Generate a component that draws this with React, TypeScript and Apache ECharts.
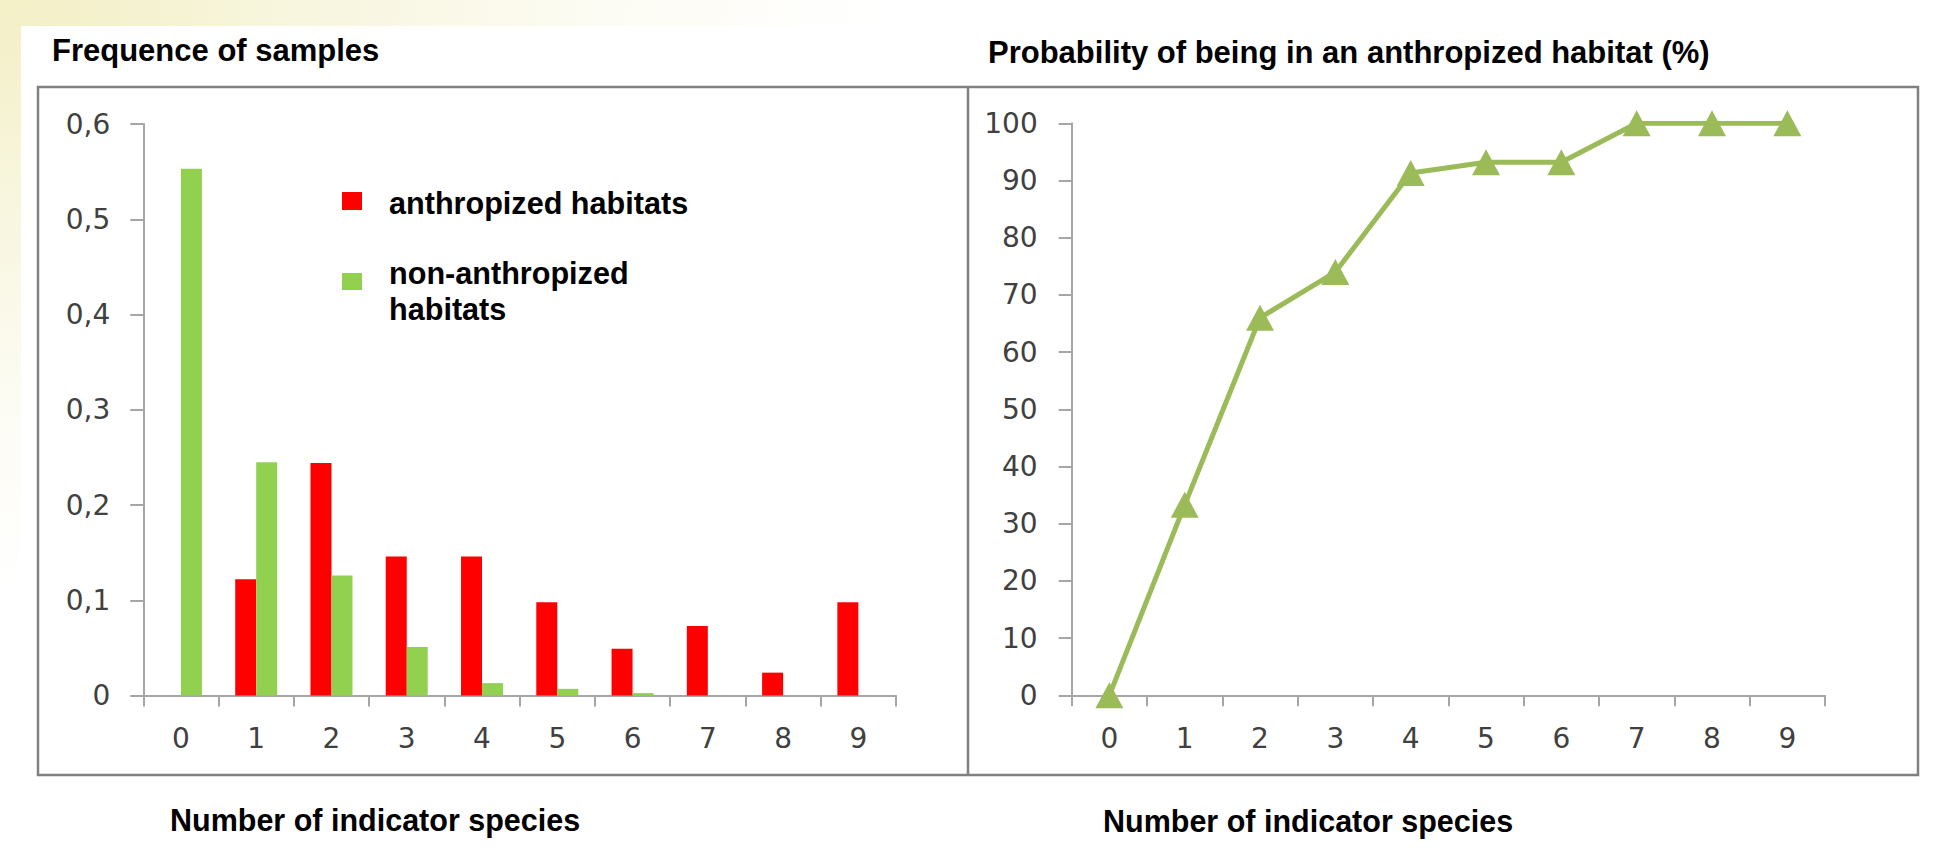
import React, { useEffect, useRef } from "react";
import * as echarts from "echarts";

// ---- data ----
const categories = ["0", "1", "2", "3", "4", "5", "6", "7", "8", "9"];
const anthropized = [0, 0.122, 0.244, 0.146, 0.146, 0.098, 0.049, 0.073, 0.024, 0.098];
const nonAnthropized = [0.553, 0.245, 0.126, 0.051, 0.013, 0.007, 0.0025, 0, 0, 0];
const probability = [0, 33.3, 66, 74, 91.3, 93.2, 93.2, 100, 100, 100];
const seriesNames = ["anthropized habitats", "non-anthropized habitats", "probability"];
const legendLabels = ["anthropized habitats", "non-anthropized\nhabitats"];
const chartTitles = ["Frequence of samples", "Probability of being in an anthropized habitat (%)"];
const xAxisTitle = "Number of indicator species";

const RED = "#FF0000";
const GREEN = "#92D050";
const OLIVE = "#9BBB59";
const AXIS = "#A6A6A6";
const LABEL = "#404040";

const boldFont = "Liberation Sans";
const tickFont = "DejaVu Sans";

export default function App() {
  const ref = useRef<HTMLDivElement>(null);

  useEffect(() => {
    if (!ref.current) return;
    const chart = echarts.init(ref.current, undefined, { renderer: "svg" });

    const axisLineStyle = { color: AXIS, width: 2 };
    const tickLabel = { fontFamily: tickFont, fontSize: 28, color: LABEL };

    const titleStyle = { fontFamily: boldFont, fontSize: 31, fontWeight: "bold" as const, color: "#000" };
    const axisTitleStyle = { fontFamily: boldFont, fontSize: 30.5, fontWeight: "bold" as const, color: "#000" };

    const option: any = {
      animation: false,
      backgroundColor: "transparent",
      title: [
        { text: chartTitles[0], left: 52, top: 34.8, padding: 0, textStyle: titleStyle },
        { text: chartTitles[1], left: 988, top: 37.1, padding: 0, textStyle: titleStyle },
        { text: xAxisTitle, left: 170, top: 804.2, padding: 0, textStyle: axisTitleStyle },
        { text: xAxisTitle, left: 1103, top: 805.9, padding: 0, textStyle: axisTitleStyle },
      ],
      grid: [
        { left: 143.3, top: 124, width: 752.7, height: 571.5, containLabel: false, outerBoundsMode: "none" },
        { left: 1071.7, top: 123.3, width: 753.3, height: 572, containLabel: false, outerBoundsMode: "none" },
      ],
      xAxis: [
        {
          type: "category",
          gridIndex: 0,
          data: categories,
          boundaryGap: true,
          axisLine: { show: true, lineStyle: axisLineStyle },
          axisTick: { show: true, length: 11, lineStyle: axisLineStyle, alignWithLabel: false },
          axisLabel: { ...tickLabel, margin: 29, interval: 0 },
          splitLine: { show: false },
        },
        {
          type: "category",
          gridIndex: 1,
          data: categories,
          boundaryGap: true,
          axisLine: { show: true, lineStyle: axisLineStyle },
          axisTick: { show: true, length: 11, lineStyle: axisLineStyle, alignWithLabel: false },
          axisLabel: { ...tickLabel, margin: 29, interval: 0 },
          splitLine: { show: false },
        },
      ],
      yAxis: [
        {
          type: "value",
          gridIndex: 0,
          min: 0,
          max: 0.6,
          interval: 0.1,
          axisLine: { show: true, lineStyle: axisLineStyle },
          axisTick: { show: true, length: 13, lineStyle: axisLineStyle },
          axisLabel: {
            ...tickLabel,
            margin: 33,
            formatter: (v: number) => (v === 0 ? "0" : (Math.round(v * 10) / 10).toFixed(1).replace(".", ",")),
          },
          splitLine: { show: false },
        },
        {
          type: "value",
          gridIndex: 1,
          min: 0,
          max: 100,
          interval: 10,
          axisLine: { show: true, lineStyle: axisLineStyle },
          axisTick: { show: true, length: 13, lineStyle: axisLineStyle },
          axisLabel: { ...tickLabel, margin: 34 },
          splitLine: { show: false },
        },
      ],
      series: [
        {
          name: seriesNames[0],
          type: "bar",
          xAxisIndex: 0,
          yAxisIndex: 0,
          data: anthropized,
          barWidth: 21,
          barGap: "0%",
          itemStyle: { color: RED },
        },
        {
          name: seriesNames[1],
          type: "bar",
          xAxisIndex: 0,
          yAxisIndex: 0,
          data: nonAnthropized,
          barWidth: 21,
          barGap: "0%",
          itemStyle: { color: GREEN },
        },
        {
          name: seriesNames[2],
          type: "line",
          xAxisIndex: 1,
          yAxisIndex: 1,
          data: probability,
          symbol: "triangle",
          symbolSize: [28, 26],
          lineStyle: { color: OLIVE, width: 5 },
          itemStyle: { color: OLIVE },
          z: 5,
        },
      ],
      graphic: [
        // outer frame and divider
        {
          type: "rect",
          shape: { x: 38, y: 87, width: 1880, height: 688 },
          style: { fill: "none", stroke: "#808080", lineWidth: 2.5 },
          silent: true,
          z: -1,
        },
        {
          type: "line",
          shape: { x1: 968, y1: 87, x2: 968, y2: 775 },
          style: { stroke: "#808080", lineWidth: 2.5 },
          silent: true,
          z: -1,
        },
        // legend
        {
          type: "rect",
          shape: { x: 342, y: 192, width: 20, height: 18 },
          style: { fill: RED },
          silent: true,
        },
        {
          type: "text",
          x: 389,
          y: 202.7,
          style: {
            text: legendLabels[0],
            font: `bold 30.6px "${boldFont}"`,
            fill: "#000",
            verticalAlign: "middle",
            align: "left",
          },
          silent: true,
        },
        {
          type: "rect",
          shape: { x: 342, y: 273, width: 20, height: 17 },
          style: { fill: GREEN },
          silent: true,
        },
        {
          type: "text",
          x: 389,
          y: 254.7,
          style: {
            text: legendLabels[1],
            font: `bold 30.6px "${boldFont}"`,
            lineHeight: 36,
            fill: "#000",
            verticalAlign: "top",
            align: "left",
          },
          silent: true,
        },
      ],
    };

    chart.setOption(option);
    return () => chart.dispose();
  }, []);

  return (
    <div
      style={{
        position: "fixed",
        left: 0,
        top: 0,
        width: 1942,
        height: 850,
        overflow: "hidden",
        background:
          "radial-gradient(ellipse 900px 600px at 0px 0px, #F3EFC6 0%, #F8F6DF 35%, #FDFCF5 70%, #FFFFFF 100%)",
      }}
    >
      <div style={{ position: "absolute", left: 21, top: 26, right: 0, bottom: 0, background: "#FFFFFF" }} />
      <div ref={ref} style={{ position: "absolute", left: 0, top: 0, width: 1942, height: 850 }} />
    </div>
  );
}
